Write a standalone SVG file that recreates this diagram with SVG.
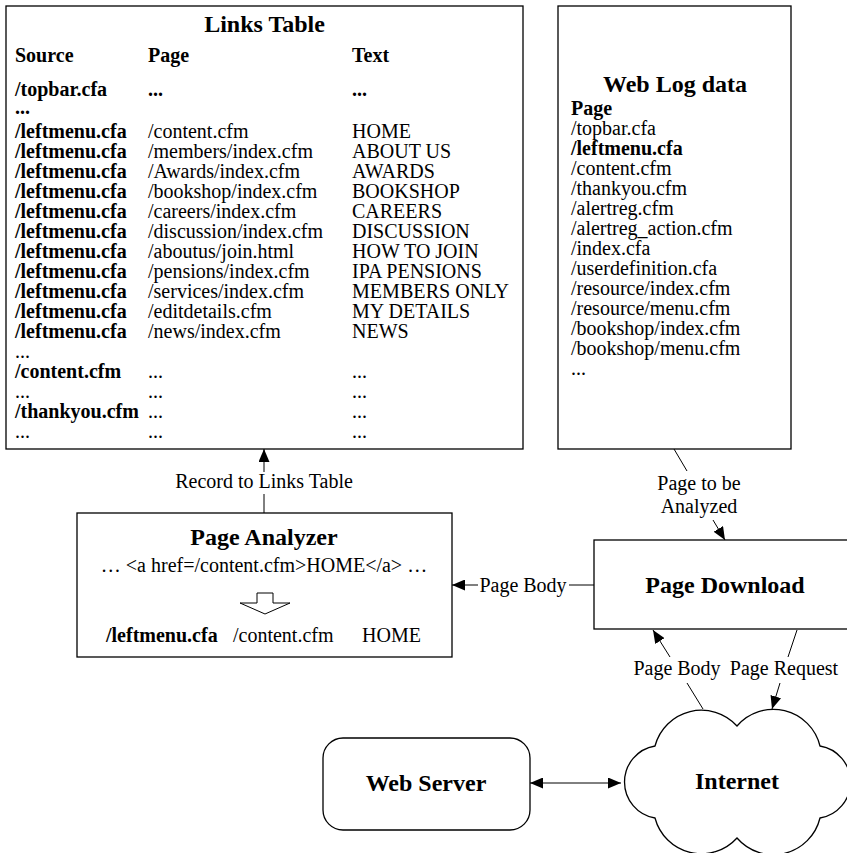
<svg xmlns="http://www.w3.org/2000/svg" width="847" height="853" viewBox="0 0 847 853">
<style>
text{font-family:"Liberation Serif","Times New Roman",serif;font-size:20px;fill:#000}
.b{font-weight:bold}
.t{font-weight:bold;font-size:24px}
.m{text-anchor:middle}
.box{fill:#fff;stroke:#000;stroke-width:1.3}
.ln{fill:none;stroke:#000;stroke-width:1}
</style>
<defs>
<marker id="ah" markerUnits="userSpaceOnUse" markerWidth="13" markerHeight="11" viewBox="0 0 13 11" refX="13" refY="5.5" orient="auto-start-reverse">
<path d="M0,0 L13,5.5 L0,11 z" fill="#000"/>
</marker>
</defs>
<rect width="847" height="853" fill="#fff"/>

<g id="links-table">
<rect class="box" x="6" y="6" width="517" height="443"/>
<text class="t m" x="264.5" y="32">Links Table</text>
<text class="b" x="15" y="62">Source</text><text class="b" x="148" y="62">Page</text><text class="b" x="352" y="62">Text</text>
<text class="b" x="15" y="96">/topbar.cfa</text><text class="b" x="148" y="96">...</text><text class="b" x="352" y="96">...</text>
<text class="b" x="15" y="114">...</text>
<text class="b" x="15" y="138">/leftmenu.cfa</text><text x="148" y="138">/content.cfm</text><text x="352" y="138">HOME</text>
<text class="b" x="15" y="158">/leftmenu.cfa</text><text x="148" y="158">/members/index.cfm</text><text x="352" y="158">ABOUT US</text>
<text class="b" x="15" y="178">/leftmenu.cfa</text><text x="148" y="178">/Awards/index.cfm</text><text x="352" y="178">AWARDS</text>
<text class="b" x="15" y="198">/leftmenu.cfa</text><text x="148" y="198">/bookshop/index.cfm</text><text x="352" y="198">BOOKSHOP</text>
<text class="b" x="15" y="218">/leftmenu.cfa</text><text x="148" y="218">/careers/index.cfm</text><text x="352" y="218">CAREERS</text>
<text class="b" x="15" y="238">/leftmenu.cfa</text><text x="148" y="238">/discussion/index.cfm</text><text x="352" y="238">DISCUSSION</text>
<text class="b" x="15" y="258">/leftmenu.cfa</text><text x="148" y="258">/aboutus/join.html</text><text x="352" y="258">HOW TO JOIN</text>
<text class="b" x="15" y="278">/leftmenu.cfa</text><text x="148" y="278">/pensions/index.cfm</text><text x="352" y="278">IPA PENSIONS</text>
<text class="b" x="15" y="298">/leftmenu.cfa</text><text x="148" y="298">/services/index.cfm</text><text x="352" y="298" textLength="157" lengthAdjust="spacingAndGlyphs">MEMBERS ONLY</text>
<text class="b" x="15" y="318">/leftmenu.cfa</text><text x="148" y="318">/editdetails.cfm</text><text x="352" y="318">MY DETAILS</text>
<text class="b" x="15" y="338">/leftmenu.cfa</text><text x="148" y="338">/news/index.cfm</text><text x="352" y="338">NEWS</text>
<text x="15" y="358">...</text>
<text class="b" x="15" y="378">/content.cfm</text><text x="148" y="378">...</text><text x="352" y="378">...</text>
<text x="15" y="398">...</text><text x="148" y="398">...</text><text x="352" y="398">...</text>
<text class="b" x="15" y="418">/thankyou.cfm</text><text x="148" y="418">...</text><text x="352" y="418">...</text>
<text x="15" y="438">...</text><text x="148" y="438">...</text><text x="352" y="438">...</text>
</g>

<g id="web-log">
<rect class="box" x="558" y="6" width="233" height="443"/>
<text class="t m" x="675" y="92">Web Log data</text>
<text class="b" x="571" y="115">Page</text>
<text x="571" y="135">/topbar.cfa</text>
<text class="b" x="571" y="155">/leftmenu.cfa</text>
<text x="571" y="175">/content.cfm</text>
<text x="571" y="195">/thankyou.cfm</text>
<text x="571" y="215">/alertreg.cfm</text>
<text x="571" y="235">/alertreg_action.cfm</text>
<text x="571" y="255">/index.cfa</text>
<text x="571" y="275">/userdefinition.cfa</text>
<text x="571" y="295">/resource/index.cfm</text>
<text x="571" y="315">/resource/menu.cfm</text>
<text x="571" y="335">/bookshop/index.cfm</text>
<text x="571" y="355">/bookshop/menu.cfm</text>
<text x="571" y="375">...</text>
</g>

<g id="page-analyzer">
<rect class="box" x="77" y="513" width="375" height="144"/>
<text class="t m" x="264" y="545">Page Analyzer</text>
<text class="m" x="264" y="572">… &lt;a href=/content.cfm&gt;HOME&lt;/a&gt; …</text>
<polygon points="257,593 273,593 273,603 290,603 265,614 240,603 257,603" fill="#fff" stroke="#000" stroke-width="1"/>
<text class="b" x="106" y="642">/leftmenu.cfa</text>
<text x="233" y="642">/content.cfm</text>
<text x="362" y="642">HOME</text>
</g>

<g id="page-download">
<rect class="box" x="594" y="540" width="262" height="89"/>
<text class="t m" x="725" y="593">Page Download</text>
</g>

<g id="web-server">
<rect class="box" x="323" y="738" width="207" height="92" rx="20" ry="20"/>
<text class="t m" x="426" y="791">Web Server</text>
</g>

<g id="internet">
<path class="box" d="M655,746 A48,48 0 0 1 737,726 A48,48 0 0 1 820,746 A36.5,36.5 0 0 1 820,818 A48,48 0 0 1 737,838 A48,48 0 0 1 655,818 A36.5,36.5 0 0 1 655,746 Z"/>
<text class="t m" x="737" y="789">Internet</text>
</g>

<g id="connectors">
<line class="ln" x1="264" y1="513" x2="264" y2="494"/>
<line class="ln" x1="264" y1="472" x2="264" y2="449" marker-end="url(#ah)"/>
<text class="m" x="264" y="488">Record to Links Table</text>

<line class="ln" x1="674" y1="449" x2="687" y2="471"/>
<line class="ln" x1="713" y1="520" x2="725" y2="540" marker-end="url(#ah)"/>
<text class="m" x="699" y="490">Page to be</text>
<text class="m" x="699" y="513">Analyzed</text>

<line class="ln" x1="594" y1="585" x2="569" y2="585"/>
<line class="ln" x1="478" y1="585" x2="452" y2="585" marker-end="url(#ah)"/>
<text class="m" x="523" y="592">Page Body</text>

<line class="ln" x1="703" y1="709" x2="687" y2="683"/>
<line class="ln" x1="670" y1="657" x2="653" y2="630" marker-end="url(#ah)"/>
<text class="m" x="677" y="675">Page Body</text>

<line class="ln" x1="797" y1="630" x2="788" y2="657"/>
<line class="ln" x1="780" y1="683" x2="772" y2="709" marker-end="url(#ah)"/>
<text class="m" x="784" y="675">Page Request</text>

<line class="ln" x1="530" y1="783" x2="621" y2="783" marker-start="url(#ah)" marker-end="url(#ah)"/>
</g>
</svg>
